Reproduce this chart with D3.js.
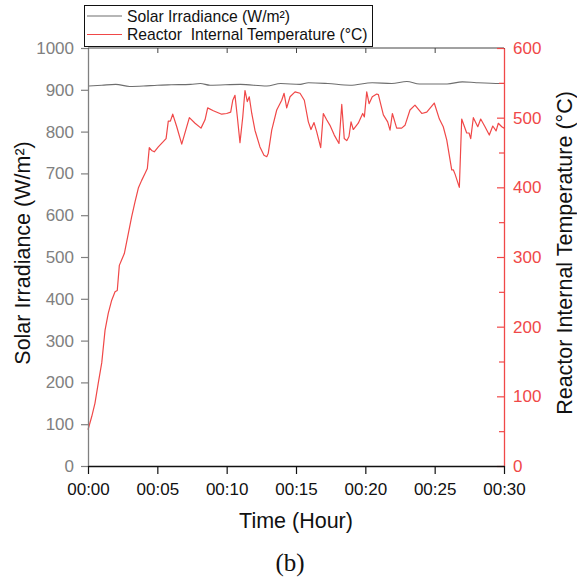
<!DOCTYPE html>
<html>
<head>
<meta charset="utf-8">
<script src="https://cdn.jsdelivr.net/npm/d3@7"></script>
<style>
  html, body { margin: 0; padding: 0; background: #fff; }
  svg { display: block; font-family: "Liberation Sans", Arial, sans-serif; }
</style>
</head>
<body>
<svg id="chart" width="577" height="582"></svg>
<script>
// ---- Data ----
// Time in minutes since 00:00
const solarTime = [0, 1, 2, 3, 4, 5, 6, 7.4, 8.1, 8.8, 11, 12.9, 13.9, 15.3, 15.9, 17.3, 18.9, 20.5, 21.9, 23, 23.9, 25.9, 27, 28, 29.7, 30];
const solarIrradiance = [909, 911, 913, 908, 909, 911, 912, 913, 915, 911, 913, 909, 915, 913, 917, 915, 911, 917, 915, 920, 914, 914, 919, 917, 915, 915];

const tempTime = [0, 0.27, 0.50, 0.74, 0.99, 1.23, 1.46, 1.71, 1.95, 2.11, 2.26, 2.43, 2.62, 2.91, 3.15, 3.39, 3.63, 3.87, 4.11, 4.28,
  4.42, 4.59, 4.78, 5.07, 5.63, 5.79, 5.94, 6.11, 6.40, 6.76, 7.05, 7.31, 7.72, 8.15, 8.44, 8.63, 9.04, 9.64, 10.00, 10.29,
  10.44, 10.60, 10.77, 10.96, 11.16, 11.32, 11.49, 11.63, 11.81, 12.04, 12.40, 12.69, 12.89, 13.00, 13.25, 13.61, 13.97, 14.14, 14.33, 14.57,
  14.93, 15.29, 15.60, 15.89, 16.08, 16.30, 16.49, 16.78, 16.97, 17.21, 17.45, 17.76, 18.10, 18.30, 18.48, 18.66, 18.82, 18.97, 19.13, 19.49,
  19.81, 19.93, 20.10, 20.27, 20.50, 20.82, 20.94, 21.30, 21.61, 21.78, 21.95, 22.26, 22.62, 22.86, 23.22, 23.58, 24.07, 24.43, 24.97, 25.34,
  25.62, 25.87, 26.23, 26.35, 26.47, 26.78, 26.95, 27.31, 27.48, 27.60, 27.79, 28.11, 28.32, 28.63, 28.94, 29.19, 29.43, 29.59, 29.84, 30.00];
const reactorTemp = [52, 71, 90, 119, 148, 195, 219, 238, 250, 252, 288, 296, 305, 334, 358, 379, 399, 410, 420, 427,
  457, 453, 451, 458, 470, 495, 495, 505, 487, 462, 482, 500, 492, 485, 497, 514, 510, 505, 506, 508,
  525, 532, 501, 464, 501, 539, 523, 530, 506, 482, 458, 446, 444, 449, 482, 511, 525, 535, 514, 530,
  537, 535, 525, 494, 483, 493, 480, 457, 506, 497, 489, 475, 463, 519, 470, 467, 473, 494, 483, 492,
  506, 501, 537, 520, 530, 534, 533, 504, 494, 482, 506, 485, 485, 489, 511, 518, 506, 508, 521, 498,
  487, 468, 425, 425, 419, 400, 498, 478, 478, 470, 500, 487, 498, 487, 475, 488, 481, 492, 487, 485];

const timeTicks = [0, 5, 10, 15, 20, 25, 30];
const timeTickLabels = ["00:00", "00:05", "00:10", "00:15", "00:20", "00:25", "00:30"];
const solarTicks = [0, 100, 200, 300, 400, 500, 600, 700, 800, 900, 1000];
const tempTicks = [0, 100, 200, 300, 400, 500, 600];
const tempMinorTicks = [50, 150, 250, 350, 450, 550];

const seriesNames = ["Solar Irradiance (W/m²)", "Reactor\u00a0 Internal Temperature (°C)"];

// ---- Layout ----
const RED = "#f04848";
const GRAY = "#6e6e6e";
const AXIS_GRAY = "#808080";
const pLeft = 88, pRight = 504, pTop = 48, pBottom = 466;

const svg = d3.select("#chart");
svg.append("rect").attr("width", 577).attr("height", 582).attr("fill", "#fff");

const x = d3.scaleLinear().domain([0, 30]).range([pLeft, pRight]);
const yL = d3.scaleLinear().domain([0, 1000]).range([pBottom, pTop]);
const yR = d3.scaleLinear().domain([0, 600]).range([pBottom, pTop]);

// Top frame line with inward ticks
const topAxis = svg.append("g").attr("transform", `translate(0,${pTop})`)
  .call(d3.axisTop(x).tickValues(timeTicks).tickSize(-5).tickFormat(""));
topAxis.select(".domain").attr("stroke", "#444").attr("d", `M${pLeft},0H${pRight}`);
topAxis.selectAll(".tick line").attr("stroke", "#444");

// Series lines
const solarData = solarTime.map((t, i) => [t, solarIrradiance[i]]);
const tempData = tempTime.map((t, i) => [t, reactorTemp[i]]);

svg.append("path").datum(solarData)
  .attr("fill", "none").attr("stroke", GRAY).attr("stroke-width", 1.1)
  .attr("d", d3.line().x(d => x(d[0])).y(d => yL(d[1])).curve(d3.curveMonotoneX));

svg.append("path").datum(tempData)
  .attr("fill", "none").attr("stroke", RED).attr("stroke-width", 1.2)
  .attr("stroke-linejoin", "round")
  .attr("d", d3.line().x(d => x(d[0])).y(d => yR(d[1])));

// Left axis (gray)
const leftAxis = svg.append("g").attr("transform", `translate(${pLeft},0)`)
  .call(d3.axisLeft(yL).tickValues(solarTicks).tickFormat(d3.format("d"))
    .tickSize(7).tickPadding(7).tickSizeOuter(0));
leftAxis.select(".domain").attr("stroke", AXIS_GRAY).attr("stroke-width", 1.3);
leftAxis.selectAll(".tick line").attr("stroke", AXIS_GRAY).attr("stroke-width", 1.2);
leftAxis.selectAll(".tick text").attr("fill", AXIS_GRAY).style("font-size", "17px")
  .style("font-family", "'Liberation Sans', Arial, sans-serif");

// Right axis (red), inward ticks
const rightAxis = svg.append("g").attr("transform", `translate(${pRight},0)`)
  .call(d3.axisRight(yR).tickValues(tempTicks).tickFormat(d3.format("d"))
    .tickSize(-7).tickPadding(9).tickSizeOuter(0));
rightAxis.select(".domain").attr("stroke", RED).attr("stroke-width", 1.3);
rightAxis.selectAll(".tick line").attr("stroke", RED).attr("stroke-width", 1.2);
rightAxis.selectAll(".tick text").attr("fill", RED).style("font-size", "17px")
  .style("font-family", "'Liberation Sans', Arial, sans-serif");
const rightMinor = svg.append("g").attr("transform", `translate(${pRight},0)`)
  .call(d3.axisRight(yR).tickValues(tempMinorTicks).tickSize(-5).tickFormat("").tickSizeOuter(0));
rightMinor.select(".domain").remove();
rightMinor.selectAll(".tick line").attr("stroke", RED).attr("stroke-width", 1.2);

// Bottom axis (black)
const bottomAxis = svg.append("g").attr("transform", `translate(0,${pBottom})`)
  .call(d3.axisBottom(x).tickValues(timeTicks).tickSize(8).tickPadding(9).tickSizeOuter(0)
    .tickFormat((d, i) => timeTickLabels[i]));
bottomAxis.select(".domain").attr("stroke", "#111").attr("stroke-width", 1.3);
bottomAxis.selectAll(".tick line").attr("stroke", "#111").attr("stroke-width", 1.2);
bottomAxis.selectAll(".tick text").attr("fill", "#111").style("font-size", "17px")
  .style("font-family", "'Liberation Sans', Arial, sans-serif");

// Axis titles
svg.append("text").attr("x", (pLeft + pRight) / 2).attr("y", 528)
  .attr("text-anchor", "middle").attr("fill", "#111").style("font-size", "21.5px")
  .text("Time (Hour)");
svg.append("text").attr("transform", `translate(30,253) rotate(-90)`)
  .attr("text-anchor", "middle").attr("fill", "#111").style("font-size", "21.5px")
  .text("Solar Irradiance (W/m²)");
svg.append("text").attr("transform", `translate(572,253) rotate(-90)`)
  .attr("text-anchor", "middle").attr("fill", "#111").style("font-size", "21.5px")
  .text("Reactor Internal Temperature (°C)");

// Caption
svg.append("text").attr("x", 290).attr("y", 571)
  .attr("text-anchor", "middle").attr("fill", "#111")
  .style("font-family", "'Liberation Serif', 'Times New Roman', serif").style("font-size", "25px")
  .text("(b)");

// Legend
const lg = svg.append("g");
lg.append("rect").attr("x", 84.5).attr("y", 5.5).attr("width", 288).attr("height", 41)
  .attr("fill", "#fff").attr("stroke", "#111").attr("stroke-width", 1);
const legendColors = [GRAY, RED];
const legendY = [16, 34.5];
seriesNames.forEach((name, i) => {
  lg.append("line").attr("x1", 87).attr("x2", 122).attr("y1", legendY[i]).attr("y2", legendY[i])
    .attr("stroke", legendColors[i]).attr("stroke-width", 1.1);
  lg.append("text").attr("x", 127).attr("y", legendY[i] + 5.6)
    .attr("fill", "#111").style("font-size", "15.7px").text(name);
});
</script>
</body>
</html>
